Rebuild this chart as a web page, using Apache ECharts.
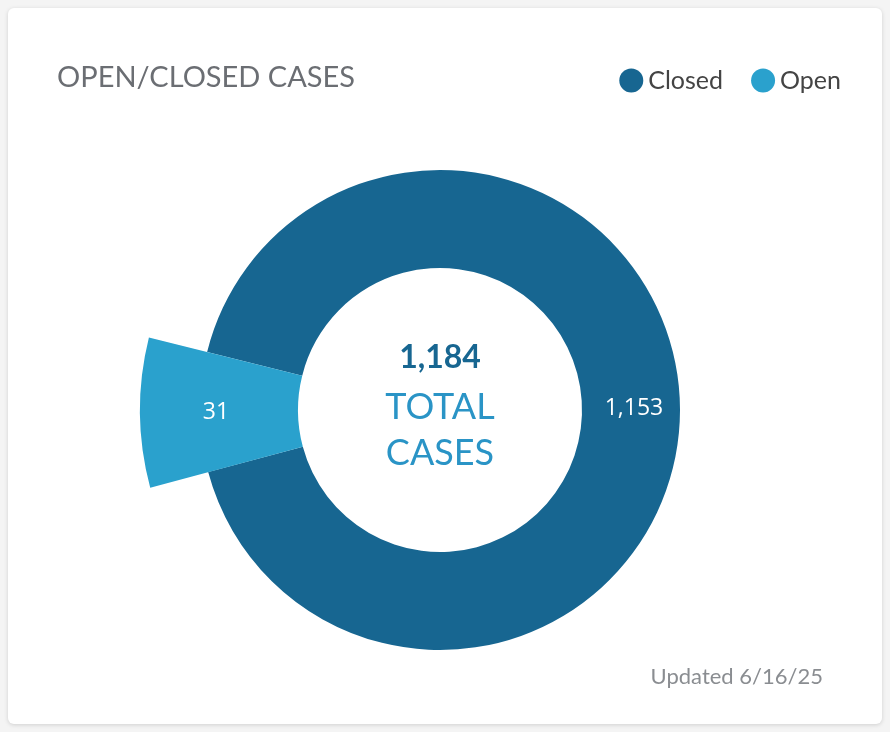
<!DOCTYPE html><html><head><meta charset="utf-8">
<script src="https://cdn.jsdelivr.net/npm/echarts@6/dist/echarts.min.js"></script>
<style>html,body{margin:0;background:#f4f4f4;}#card{position:absolute;left:8px;top:8px;width:874px;height:716px;background:#fff;border-radius:6px;box-shadow:0 1px 4px rgba(0,0,0,0.15);}#c{width:874px;height:716px;}</style>
</head><body><div id="card"><div id="c"></div></div>
<script>
const categories=['Closed','Open'];
const values=[1153,31];
const colors=['#176691','#2aa1cd'];
const total=values.reduce((a,b)=>a+b,0);
const fmt=v=>v.toLocaleString('en-US');
const ch=echarts.init(document.getElementById('c'));
function mk(idx,radius){
 return {type:'pie',radius:radius,center:[432,402],startAngle:195,clockwise:true,minAngle:29,silent:true,
  data:[1,0].map(i=>({name:categories[i],value:values[i],
   itemStyle:{color:i===idx?colors[i]:'rgba(0,0,0,0)'},
   label:{show:i===idx}})),
  label:{position:'inside',color:'#fff',fontSize:23,fontFamily:'Open Sans',formatter:p=>fmt(p.value)},
  labelLine:{show:false}};
}
ch.setOption({
 title:{text:'OPEN/CLOSED CASES',left:44,top:50,textStyle:{color:'#6b6e73',fontSize:29,fontWeight:'normal',fontFamily:'Lato'}},
 legend:{data:categories.map((n,i)=>({name:n,itemStyle:{color:colors[i]}})),right:36,top:55,icon:'circle',itemWidth:24,itemHeight:24,itemGap:28,textStyle:{color:'#444',fontSize:25,fontFamily:'Lato'}},
 series:[mk(0,[142,240]),mk(1,[142,300])],
 graphic:[
  {type:'text',style:{text:fmt(total),x:432,y:334,textAlign:'center',fill:'#176691',font:'bold 32px Lato'}},
  {type:'text',style:{text:'TOTAL\nCASES',x:432,y:376,textAlign:'center',fill:'#2a94c6',font:'36px Lato',lineHeight:46}},
  {type:'text',style:{text:'Updated 6/16/25',x:815,y:658,textAlign:'right',fill:'#8a8d91',font:'22px Lato'}}
 ]
});
</script></body></html>
